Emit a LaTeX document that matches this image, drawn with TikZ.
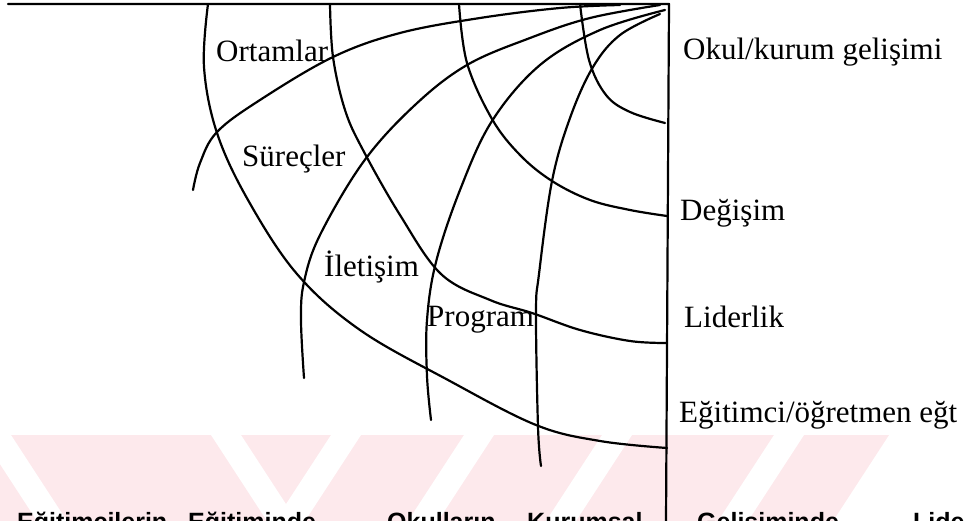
\documentclass[tikz,border=0pt]{standalone}
\usepackage{fontspec}
\setmainfont{Liberation Serif}
\newfontfamily\botfont{Liberation Sans}
\definecolor{wmpink}{HTML}{FDE9EC}
\begin{document}
\begin{tikzpicture}[x=1pt,y=-1pt,
  curve/.style={line width=2.2pt, line cap=round, line join=round},
  lab/.style={anchor=base west, inner sep=0pt, font=\fontsize{31}{31}\selectfont},
  bot/.style={anchor=base west, inner sep=0pt, font=\botfont\bfseries\fontsize{25}{25}\selectfont},
  gap/.style={fill=white}]
\useasboundingbox (0,0) rectangle (965,521);
\clip (0,0) rectangle (965,521);
% faint watermark band at the bottom
\fill[wmpink] (0,435) -- (889,435) -- (833,521) -- (0,521) -- cycle;
\fill[gap] (-19,435) -- (11,435) -- (67,521) -- (37,521) -- cycle;
\fill[gap] (211,435) -- (241,435) -- (297,521) -- (267,521) -- cycle;
\fill[gap] (331,435) -- (361,435) -- (305,521) -- (275,521) -- cycle;
\fill[gap] (464,435) -- (494,435) -- (438,521) -- (408,521) -- cycle;
\fill[gap] (602,435) -- (632,435) -- (576,521) -- (546,521) -- cycle;
\fill[gap] (774,435) -- (804,435) -- (748,521) -- (718,521) -- cycle;
\coordinate (corner) at (669,4);
\coordinate (topleft) at (8,4);
\coordinate (bottomright) at (666,521);
% frame
\draw[curve] (topleft) -- (corner) -- (bottomright);
% concentric arcs
\draw[curve] plot[smooth, tension=0.6] coordinates {(208,4) (204,67) (217,133) (248,200) (297,274) (360,330) (448,380) (536,425) (600,441) (667,448)};
\draw[curve] plot[smooth, tension=0.6] coordinates {(330,4) (333,57) (345,110) (363,150) (400,215) (441,274) (490,300) (532,313) (580,330) (630,341) (667,343)};
\draw[curve] plot[smooth, tension=0.6] coordinates {(459,4) (467,63) (492,119) (520,155) (552,181) (590,200) (630,210) (667,216)};
\draw[curve] plot[smooth, tension=0.6] coordinates {(580,4) (589,60) (606,95) (630,112) (665,123)};
% fan curves
\draw[curve] plot[smooth, tension=0.6] coordinates {(193,190) (200,163) (217,132) (260,100) (333,57) (400,33) (480,18) (560,8) (620,5)};
\draw[curve] plot[smooth, tension=0.6] coordinates {(304,378) (301,320) (304,282) (320,235) (364,161) (415,105) (467,65) (530,38) (590,18) (660,5)};
\draw[curve] plot[smooth, tension=0.6] coordinates {(431,420) (427,376) (427,320) (436,262) (460,190) (492,121) (540,65) (600,30) (665,10)};
\draw[curve] plot[smooth, tension=0.6] coordinates {(541,466) (538,427) (536,313) (539,274) (552,181) (570,118) (593,67) (620,35) (660,14)};
% labels
\node[lab] (ort) at (216,62) {Ortamlar};
\node[lab] (sur) at (242,167) {Süreçler};
\node[lab] (ilet) at (324,276) {İletişim};
\node[lab] (prog) at (427,326) {Program};
\node[lab] (okul) at (683,60) {Okul/kurum gelişimi};
\node[lab] (deg) at (680,221) {Değişim};
\node[lab] (lid) at (684,327) {Liderlik};
\node[lab] (egt) at (679,422) {Eğitimci/öğretmen eğt};
% bottom line of text (cut off)
\node[bot] (b1) at (17,530) {Eğitimcilerin};
\node[bot] (b2) at (188,530) {Eğitiminde};
\node[bot] (b3) at (387,530) {Okulların};
\node[bot] (b4) at (527,530) {Kurumsal};
\node[bot] (b5) at (697,530) {Gelişiminde};
\node[bot] (b6) at (913,530) {Liderlik};
\end{tikzpicture}
\end{document}
